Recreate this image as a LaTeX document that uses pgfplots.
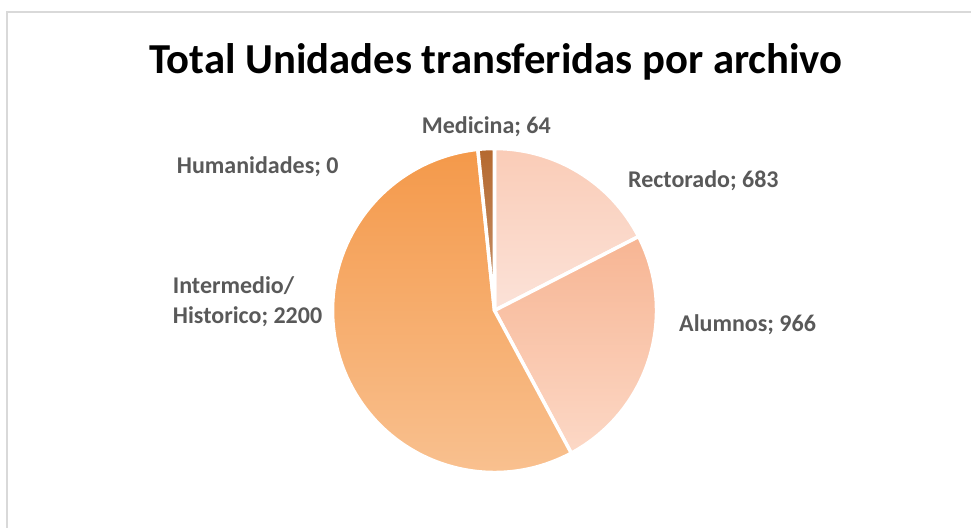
\documentclass[border=0pt]{standalone}
\usepackage{fontspec}
\setmainfont{Carlito}
\usepackage{pgfplots}
\pgfplotsset{compat=1.18}
\usepackage{pgfplotstable}

\definecolor{lbl}{HTML}{595959}
\definecolor{frame}{HTML}{D9D9D9}
\definecolor{rectT}{HTML}{FACCB7}
\definecolor{rectB}{HTML}{FBE2D8}
\definecolor{alumT}{HTML}{F7B593}
\definecolor{alumB}{HTML}{FCD8C6}
\definecolor{interT}{HTML}{F4994A}
\definecolor{interB}{HTML}{F9C394}
\definecolor{mediT}{HTML}{B5692F}
\definecolor{mediB}{HTML}{C7946E}

\pgfplotstableread{
name value
Rectorado 683
Alumnos 966
Intermedio 2200
Humanidades 0
Medicina 64
}\piedata

\begin{document}%
\begin{tikzpicture}
\pgfplotstablegetelem{0}{value}\of\piedata \let\vA\pgfplotsretval
\pgfplotstablegetelem{1}{value}\of\piedata \let\vB\pgfplotsretval
\pgfplotstablegetelem{2}{value}\of\piedata \let\vC\pgfplotsretval
\pgfplotstablegetelem{3}{value}\of\piedata \let\vD\pgfplotsretval
\pgfplotstablegetelem{4}{value}\of\piedata \let\vE\pgfplotsretval
\pgfmathsetmacro\tot{\vA+\vB+\vC+\vD+\vE}
\pgfmathsetmacro\aA{90}
\pgfmathsetmacro\aB{\aA-360*(\vA/\tot)}
\pgfmathsetmacro\aC{\aB-360*(\vB/\tot)}
\pgfmathsetmacro\aD{\aC-360*(\vC/\tot)}
\pgfmathsetmacro\aE{\aD-360*(\vD/\tot)}
\pgfmathsetmacro\aF{\aE-360*(\vE/\tot)}
\def\R{162pt}
\begin{axis}[
  at={(0pt,0pt)}, anchor=south west,
  scale only axis, width=971pt, height=527pt,
  xmin=0, xmax=971, ymin=0, ymax=527,
  hide axis, clip=false]
\addplot[draw=none] coordinates {(0,0) (971,527)};
\path[top color=rectT, bottom color=rectB, draw=white, line width=3.5pt, line join=round]
  (axis cs:494.5,216.5) -- ++(\aA:\R) arc[start angle=\aA, end angle=\aB, radius=\R] -- cycle;
\path[top color=alumT, bottom color=alumB, draw=white, line width=3.5pt, line join=round]
  (axis cs:494.5,216.5) -- ++(\aB:\R) arc[start angle=\aB, end angle=\aC, radius=\R] -- cycle;
\path[top color=interT, bottom color=interB, draw=white, line width=3.5pt, line join=round]
  (axis cs:494.5,216.5) -- ++(\aC:\R) arc[start angle=\aC, end angle=\aD, radius=\R] -- cycle;
\path[top color=mediT, bottom color=mediB, draw=white, line width=3.5pt, line join=round]
  (axis cs:494.5,216.5) -- ++(\aE:\R) arc[start angle=\aE, end angle=\aF, radius=\R] -- cycle;

\node[anchor=base, inner sep=0pt, font=\fontsize{42.7}{50}\selectfont\bfseries]
  at (axis cs:496,453) {Total Unidades transferidas por archivo};
\node[anchor=base west, inner sep=0pt, text=lbl, font=\fontsize{24}{29}\selectfont\bfseries]
  at (axis cs:421.7,393) {Medicina; \vE};
\node[anchor=base west, inner sep=0pt, text=lbl, font=\fontsize{24}{29}\selectfont\bfseries]
  at (axis cs:176.7,353) {Humanidades; \vD};
\node[anchor=base west, inner sep=0pt, text=lbl, font=\fontsize{24}{29}\selectfont\bfseries]
  at (axis cs:628,339.3) {Rectorado; \vA};
\node[anchor=base west, inner sep=0pt, text=lbl, font=\fontsize{24}{29}\selectfont\bfseries]
  at (axis cs:679,195.3) {Alumnos; \vB};
\node[anchor=base west, inner sep=0pt, text=lbl, font=\fontsize{24}{29}\selectfont\bfseries]
  at (axis cs:172.7,233) {Intermedio/};
\node[anchor=base west, inner sep=0pt, text=lbl, font=\fontsize{24}{29}\selectfont\bfseries]
  at (axis cs:172.7,203) {Historico; \vC};
\end{axis}
\draw[frame, line width=2pt] (7pt,-20pt) -- (7pt,514.5pt) -- (1000pt,514.5pt);
\pgfresetboundingbox
\useasboundingbox (0pt,0pt) rectangle (971pt,527pt);
\end{tikzpicture}%
\end{document}
